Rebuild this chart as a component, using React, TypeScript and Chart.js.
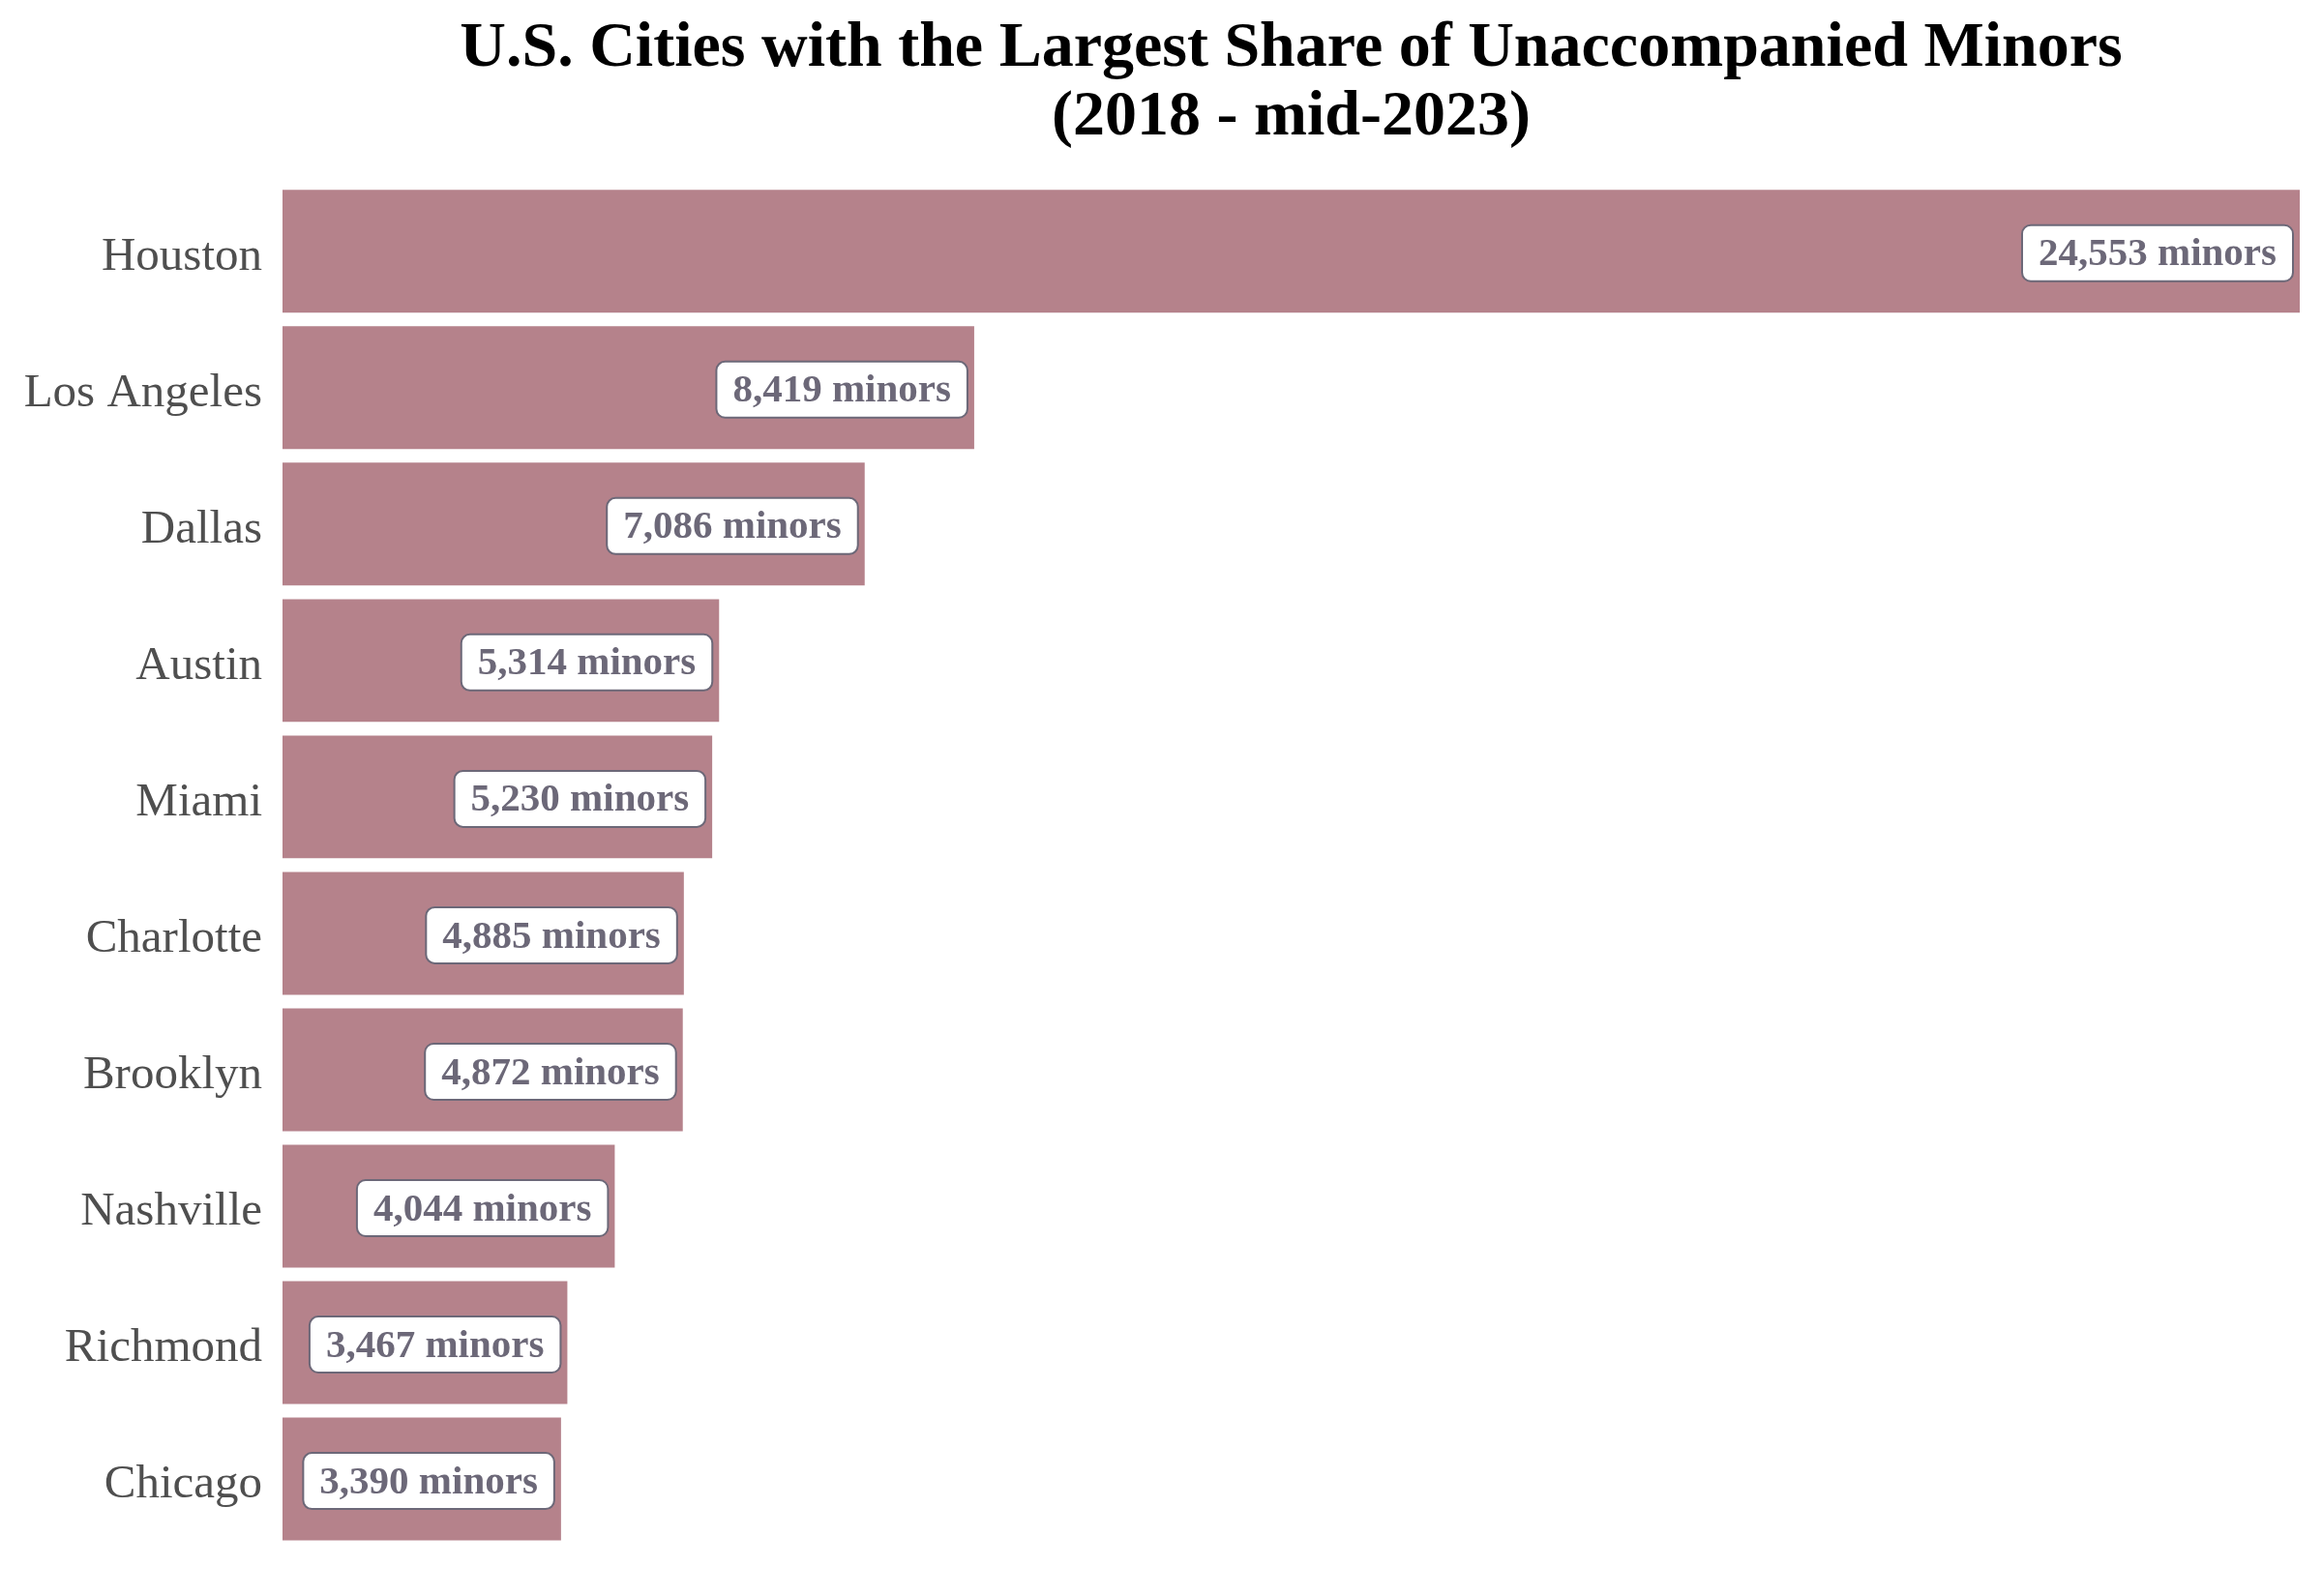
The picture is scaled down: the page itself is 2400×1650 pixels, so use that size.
import React, { useEffect, useRef } from "react";
import { Chart, registerables } from "chart.js";

Chart.register(...registerables);

const cities = [
  "Houston",
  "Los Angeles",
  "Dallas",
  "Austin",
  "Miami",
  "Charlotte",
  "Brooklyn",
  "Nashville",
  "Richmond",
  "Chicago",
];
const minors = [24553, 8419, 7086, 5314, 5230, 4885, 4872, 4044, 3467, 3390];
const titleLines = [
  "U.S. Cities with the Largest Share of Unaccompanied Minors",
  "(2018 - mid-2023)",
];

const BAR_COLOR = "#b5828b";
const LABEL_COLOR = "#6c6878";

const labelBoxPlugin = {
  id: "labelBoxes",
  afterDatasetsDraw(chart: any) {
    const ctx = chart.ctx;
    const meta = chart.getDatasetMeta(0);
    const values = chart.data.datasets[0].data as number[];
    ctx.save();
    ctx.font = "bold 41px 'Liberation Serif', 'Times New Roman', serif";
    ctx.textBaseline = "middle";
    ctx.textAlign = "center";
    meta.data.forEach((bar: any, i: number) => {
      const text = `${values[i].toLocaleString("en-US")} minors`;
      const tw = ctx.measureText(text).width;
      const padX = 17;
      const h = 58;
      const w = tw + 2 * padX;
      const right = bar.x - 7;
      const left = right - w;
      const cy = bar.y + 2;
      const top = cy - h / 2;
      ctx.beginPath();
      ctx.roundRect(left, top, w, h, 9);
      ctx.fillStyle = "#ffffff";
      ctx.fill();
      ctx.lineWidth = 2;
      ctx.strokeStyle = LABEL_COLOR;
      ctx.stroke();
      ctx.fillStyle = LABEL_COLOR;
      ctx.fillText(text, left + w / 2, cy + 2);
    });
    ctx.restore();
  },
};

export default function App() {
  const canvasRef = useRef<HTMLCanvasElement | null>(null);

  useEffect(() => {
    if (!canvasRef.current) return;
    const chart = new Chart(canvasRef.current, {
      type: "bar",
      data: {
        labels: cities,
        datasets: [
          {
            data: minors,
            backgroundColor: BAR_COLOR,
            borderWidth: 0,
            barPercentage: 0.9,
            categoryPercentage: 1,
          },
        ],
      },
      options: {
        indexAxis: "y",
        animation: false,
        responsive: false,
        maintainAspectRatio: false,
        devicePixelRatio: 1,
        layout: { padding: { top: 0, right: 23, bottom: 50, left: 0 } },
        plugins: {
          legend: { display: false },
          tooltip: { enabled: false },
          title: {
            display: true,
            fullSize: false,
            text: titleLines,
            color: "#000000",
            font: {
              family: "'Liberation Serif', 'Times New Roman', serif",
              size: 66,
              weight: "bold",
              lineHeight: 1.07,
            },
            padding: { top: 16, bottom: 32 },
          },
        },
        scales: {
          x: {
            display: false,
            min: 0,
            max: 24553,
            grid: { display: false },
          },
          y: {
            grid: { display: false, drawTicks: false },
            border: { display: false },
            ticks: {
              color: "#4f4f4f",
              padding: 21,
              labelOffset: 6,
              font: {
                family: "'Liberation Serif', 'Times New Roman', serif",
                size: 49,
              },
            },
            afterFit: (scale: any) => {
              scale.width = 292;
            },
          },
        },
      },
      plugins: [labelBoxPlugin],
    });
    return () => chart.destroy();
  }, []);

  return (
    <div style={{ position: "absolute", left: 0, top: 0, width: 2400, height: 1650 }}>
      <canvas ref={canvasRef} width={2400} height={1650} style={{ width: 2400, height: 1650, display: "block" }} />
    </div>
  );
}
